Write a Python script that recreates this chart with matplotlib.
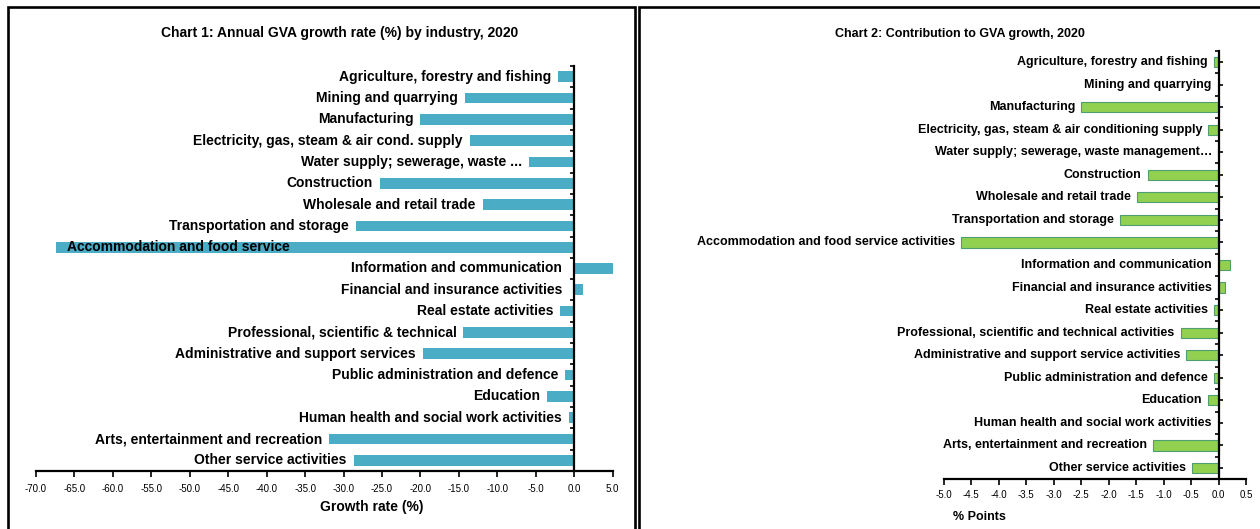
import matplotlib
matplotlib.use("Agg")
import matplotlib.pyplot as plt
from matplotlib.patches import Rectangle
from matplotlib.transforms import offset_copy
import numpy as np

plt.rcParams['font.family'] = ['Liberation Sans', 'DejaVu Sans']

# ---------------- data ----------------
categories1 = [
    "Agriculture, forestry and fishing",
    "Mining and quarrying",
    "Manufacturing",
    "Electricity, gas, steam & air cond. supply",
    "Water supply; sewerage, waste ...",
    "Construction",
    "Wholesale and retail trade",
    "Transportation and storage",
    "Accommodation and food service",
    "Information and communication",
    "Financial and insurance activities",
    "Real estate activities",
    "Professional, scientific & technical",
    "Administrative and support services",
    "Public administration and defence",
    "Education",
    "Human health and social work activities",
    "Arts, entertainment and recreation",
    "Other service activities",
]
growth = [-2.1, -14.2, -20.0, -13.6, -5.9, -25.3, -11.9, -28.4, -67.4,
          5.0, 1.2, -1.8, -14.4, -19.7, -1.2, -3.5, -0.7, -31.9, -28.7]

categories2 = [
    "Agriculture, forestry and fishing",
    "Mining and quarrying",
    "Manufacturing",
    "Electricity, gas, steam & air conditioning supply",
    "Water supply; sewerage, waste management\u2026",
    "Construction",
    "Wholesale and retail trade",
    "Transportation and storage",
    "Accommodation and food service activities",
    "Information and communication",
    "Financial and insurance activities",
    "Real estate activities",
    "Professional, scientific and technical activities",
    "Administrative and support service activities",
    "Public administration and defence",
    "Education",
    "Human health and social work activities",
    "Arts, entertainment and recreation",
    "Other service activities",
]
contrib = [-0.09, 0.0, -2.50, -0.19, -0.01, -1.29, -1.49, -1.79, -4.69,
           0.21, 0.11, -0.09, -0.69, -0.59, -0.09, -0.19, 0.0, -1.19, -0.49]

xticks1 = [-70, -65, -60, -55, -50, -45, -40, -35, -30, -25, -20, -15, -10, -5, 0, 5]
xticklabels1 = ["-70.0", "-65.0", "-60.0", "-55.0", "-50.0", "-45.0", "-40.0", "-35.0",
                "-30.0", "-25.0", "-20.0", "-15.0", "-10.0", "-5.0", "0.0", "5.0"]
xticks2 = [-5.0, -4.5, -4.0, -3.5, -3.0, -2.5, -2.0, -1.5, -1.0, -0.5, 0.0, 0.5]
xticklabels2 = ["-5.0", "-4.5", "-4.0", "-3.5", "-3.0", "-2.5", "-2.0", "-1.5",
                "-1.0", "-0.5", "0.0", "0.5"]

title1 = "Chart 1: Annual GVA growth rate (%) by industry, 2020"
title2 = "Chart 2: Contribution to GVA growth, 2020"
xlabel1 = "Growth rate (%)"
xlabel2 = "% Points"

# ---------------- layout ----------------
W, H = 1260, 529
fig = plt.figure(figsize=(W / 100, H / 100), dpi=100)


def px(x, y, w, h):
    return [x / W, 1 - (y + h) / H, w / W, h / H]


def style_axes(ax, n, xticks, xticklabels, centre_ticks):
    ax.set_ylim(n - 0.5, -0.5)
    for s in ("top", "right"):
        ax.spines[s].set_visible(False)
    ax.spines["left"].set_position(("data", 0))
    ax.spines["left"].set_linewidth(1.6)
    ax.spines["bottom"].set_linewidth(1.6)
    ax.set_yticks(np.arange(-0.5, n, 1))
    ax.set_yticklabels([])
    ax.tick_params(axis="y", which="major", direction="out", length=3, width=1.2)
    if centre_ticks:
        ax.set_yticks(np.arange(0, n, 1), minor=True)
        ax.tick_params(axis="y", which="minor", direction="in", length=3, width=1.2)
    ax.set_xticks(xticks)
    ax.set_xticklabels(xticklabels, fontsize=7)


# ---- Chart 1 ----
n1 = len(categories1)
ax1 = fig.add_axes(px(36, 66, 576.6, 405))
ax1.barh(np.arange(n1), growth, height=0.5, color="#4BACC6", zorder=2)
ax1.set_xlim(-70, 5)
style_axes(ax1, n1, xticks1, xticklabels1, False)
ax1.tick_params(axis="x", direction="out", length=4, width=1.2, pad=5.5)
ax1.set_xlabel(xlabel1, fontsize=10, fontweight="bold")
ax1.xaxis.set_label_coords(0.5827, -0.0889)
ax1.xaxis.label.set_va("center")

texts1 = []
for i, (c, v) in enumerate(zip(categories1, growth)):
    gap = -7 if v < 0 else -12
    tr = offset_copy(ax1.transData, fig=fig, x=gap, y=0, units="dots")
    t = ax1.text(min(v, 0), i, c, ha="right", va="center", fontsize=10,
                 fontweight="bold", transform=tr, clip_on=False, zorder=3)
    texts1.append((t, v))

# ---- Chart 2 ----
n2 = len(categories2)
ax2 = fig.add_axes(px(943.6, 50.7, 302.4, 428.6))
ax2.barh(np.arange(n2), contrib, height=0.45, color="#92D050",
         edgecolor="#4F9E72", linewidth=0.8, zorder=2)
ax2.set_xlim(-5, 0.5)
style_axes(ax2, n2, xticks2, xticklabels2, True)
ax2.tick_params(axis="x", direction="out", length=4, width=1.2, pad=3.5)
ax2.set_xlabel(xlabel2, fontsize=9, fontweight="bold")
ax2.xaxis.set_label_coords(0.1187, -0.088)
ax2.xaxis.label.set_va("center")

for i, (c, v) in enumerate(zip(categories2, contrib)):
    gap = -6 if v < 0 else -7
    tr = offset_copy(ax2.transData, fig=fig, x=gap, y=0, units="dots")
    ax2.text(min(v, 0), i, c, ha="right", va="center", fontsize=9,
             fontweight="bold", transform=tr, clip_on=False, zorder=3)

# titles
fig.text(340 / W, 1 - 33 / H, title1, ha="center", va="center",
         fontsize=10, fontweight="bold")
fig.text(960 / W, 1 - 34 / H, title2, ha="center", va="center",
         fontsize=9, fontweight="bold")

# panel borders
fig.add_artist(Rectangle((7.5 / W, -0.1), (635 - 7.5) / W, 1 - 7.5 / H + 0.1,
                         transform=fig.transFigure, fill=False, lw=1.9,
                         ec="black", clip_on=False))
fig.add_artist(Rectangle((639 / W, -0.1), 0.6, 1 - 7.5 / H + 0.1,
                         transform=fig.transFigure, fill=False, lw=1.9,
                         ec="black", clip_on=False))

# labels that do not fit outside the bar go inside it
fig.canvas.draw()
ax_left = ax1.get_window_extent().x0
for t, v in texts1:
    bb = t.get_window_extent()
    if bb.x0 < ax_left:
        t.set_x(v)
        t.set_ha("left")
        t.set_transform(offset_copy(ax1.transData, fig=fig, x=11, y=0, units="dots"))

fig.savefig("out.png", dpi=100)
